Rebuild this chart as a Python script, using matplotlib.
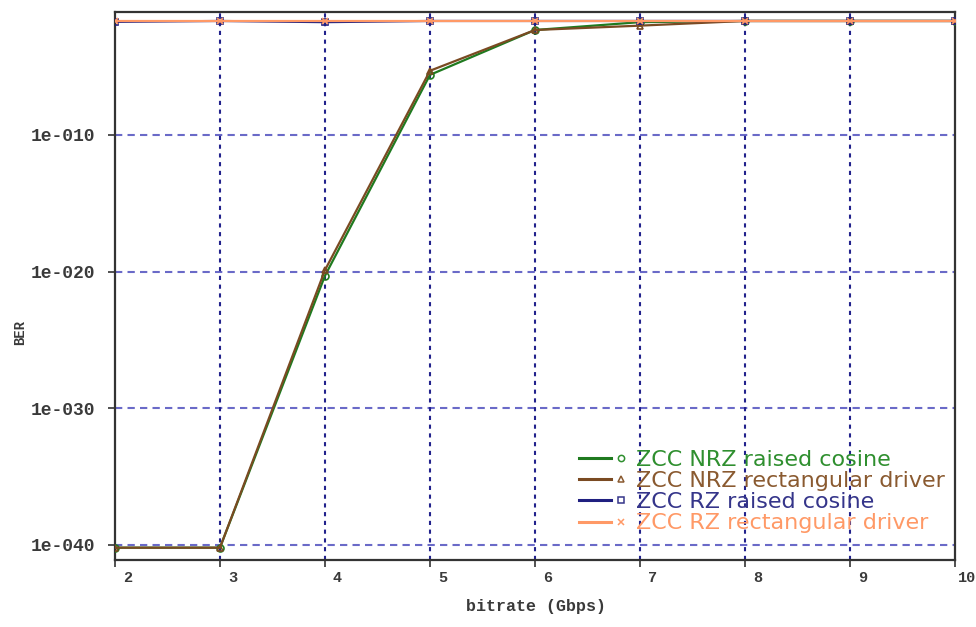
import matplotlib
matplotlib.use("Agg")
import matplotlib.pyplot as plt
from matplotlib.lines import Line2D
from matplotlib.legend_handler import HandlerBase
from matplotlib.transforms import ScaledTranslation

# Bit rate (Gbps) and bit error rate of each scheme
bitrate = [2, 3, 4, 5, 6, 7, 8, 9, 10]
ber_nrz_raised = [6.3e-41, 6.3e-41, 5.0e-21, 2.5e-6, 4.8e-3, 1.8e-2, 2.2e-2, 2.2e-2, 2.2e-2]
ber_nrz_rect = [6.3e-41, 6.3e-41, 1.3e-20, 5.0e-6, 4.8e-3, 1.0e-2, 2.2e-2, 2.2e-2, 2.2e-2]
ber_rz_raised = [1.9e-2, 2.2e-2, 1.8e-2, 2.2e-2, 2.2e-2, 2.2e-2, 2.2e-2, 2.2e-2, 2.2e-2]
ber_rz_rect = [2.2e-2, 2.2e-2, 2.2e-2, 2.2e-2, 2.2e-2, 2.2e-2, 2.2e-2, 2.2e-2, 2.2e-2]

series_labels = ["ZCC NRZ raised cosine", "ZCC NRZ rectangular driver",
                 "ZCC RZ raised cosine", "ZCC RZ rectangular driver"]
y_ticks = [1e-10, 1e-20, 1e-30, 1e-40]
y_tick_labels = ["1e-010", "1e-020", "1e-030", "1e-040"]
x_ticks = [2, 3, 4, 5, 6, 7, 8, 9, 10]

line_colors = ["#1f7a1f", "#7a4a22", "#1f1f80", "#ff9966"]
text_colors = ["#2f8f2f", "#8a5a30", "#35358a", "#ff9966"]
markers = ["o", "^", "s", "x"]


class LineThenMarker(HandlerBase):
    """Legend key: a short line segment followed by a separate marker."""

    def create_artists(self, legend, orig_handle, xdescent, ydescent,
                       width, height, fontsize, trans):
        ln, mk = orig_handle
        y = (height - ydescent) / 2.0
        x0 = -xdescent
        seg = Line2D([x0, x0 + 0.64 * width], [y, y], color=ln.get_color(),
                     lw=ln.get_linewidth())
        dot = Line2D([x0 + 0.84 * width], [y], ls="none",
                     marker=mk.get_marker(), ms=mk.get_markersize(),
                     mfc="none", mec=mk.get_markeredgecolor(),
                     mew=mk.get_markeredgewidth())
        seg.set_transform(trans)
        dot.set_transform(trans)
        return [seg, dot]


fig = plt.figure(figsize=(9.76, 6.27), dpi=100)
ax = fig.add_axes([0.1178, 0.1069, 0.8607, 0.8740])
ax.set_yscale("log")
ax.set_xlim(2, 10)
ax.set_ylim(10 ** -41.1, 1e-1)

# grid
for yt in y_ticks:
    ax.axhline(yt, color="#6a6ac8", lw=1.5, ls=(0, (3.5, 2.5)), zorder=1)
for xt in x_ticks[1:-1]:
    ax.axvline(xt, color="#22228c", lw=1.5, ls=(0, (2, 2.2)), zorder=1)

all_series = [ber_nrz_raised, ber_nrz_rect, ber_rz_raised, ber_rz_rect]
for i, vals in enumerate(all_series):
    ax.plot(bitrate, vals, color=line_colors[i], lw=1.6, zorder=3 + i,
            marker=markers[i], ms=5, mfc="none", mec=line_colors[i], mew=1.2)

mono = "Liberation Mono"
ax.set_yticks(y_ticks)
ax.set_yticklabels(y_tick_labels, fontfamily=mono, fontweight="bold",
                   fontsize=13, color="#3a3a3a")
ax.yaxis.set_minor_locator(matplotlib.ticker.NullLocator())
ax.set_xticks(x_ticks)
ax.set_xticklabels([str(v) for v in x_ticks], fontfamily=mono,
                   fontweight="bold", fontsize=11, color="#3a3a3a")
ax.tick_params(axis="both", direction="out", length=5, width=1.2,
               color="#333333")
ax.tick_params(axis="y", pad=9)
ax.tick_params(axis="x", pad=3)
shift = ScaledTranslation(9 / 72, 0, fig.dpi_scale_trans)
for lbl in ax.get_xticklabels():
    lbl.set_transform(lbl.get_transform() + shift)

for sp in ax.spines.values():
    sp.set_color("#333333")
    sp.set_linewidth(1.6)

fig.text(0.549, 0.032, "bitrate (Gbps)", ha="center", va="center",
         fontfamily=mono, fontweight="bold", fontsize=12, color="#3a3a3a")
fig.text(0.021, 0.47, "BER", ha="center", va="center", rotation=90,
         fontfamily=mono, fontweight="bold", fontsize=10, color="#3a3a3a")

handles = []
for i in range(4):
    ln = Line2D([], [], color=line_colors[i], lw=2.2)
    mk = Line2D([], [], ls="none", marker=markers[i], ms=4.5, mfc="none",
                mec=text_colors[i], mew=1.1)
    handles.append((ln, mk))
leg = ax.legend(handles, series_labels,
                handler_map={tuple: LineThenMarker()},
                loc="upper left", bbox_to_anchor=(579 / 976, 1 - 450 / 627),
                bbox_transform=fig.transFigure, borderpad=0, borderaxespad=0,
                frameon=False, labelspacing=0.05,
                handlelength=2.25, handletextpad=0.3,
                prop={"family": "DejaVu Sans", "size": 16})
for t, c in zip(leg.get_texts(), text_colors):
    t.set_color(c)

fig.savefig("out.png", dpi=100, facecolor="white")
